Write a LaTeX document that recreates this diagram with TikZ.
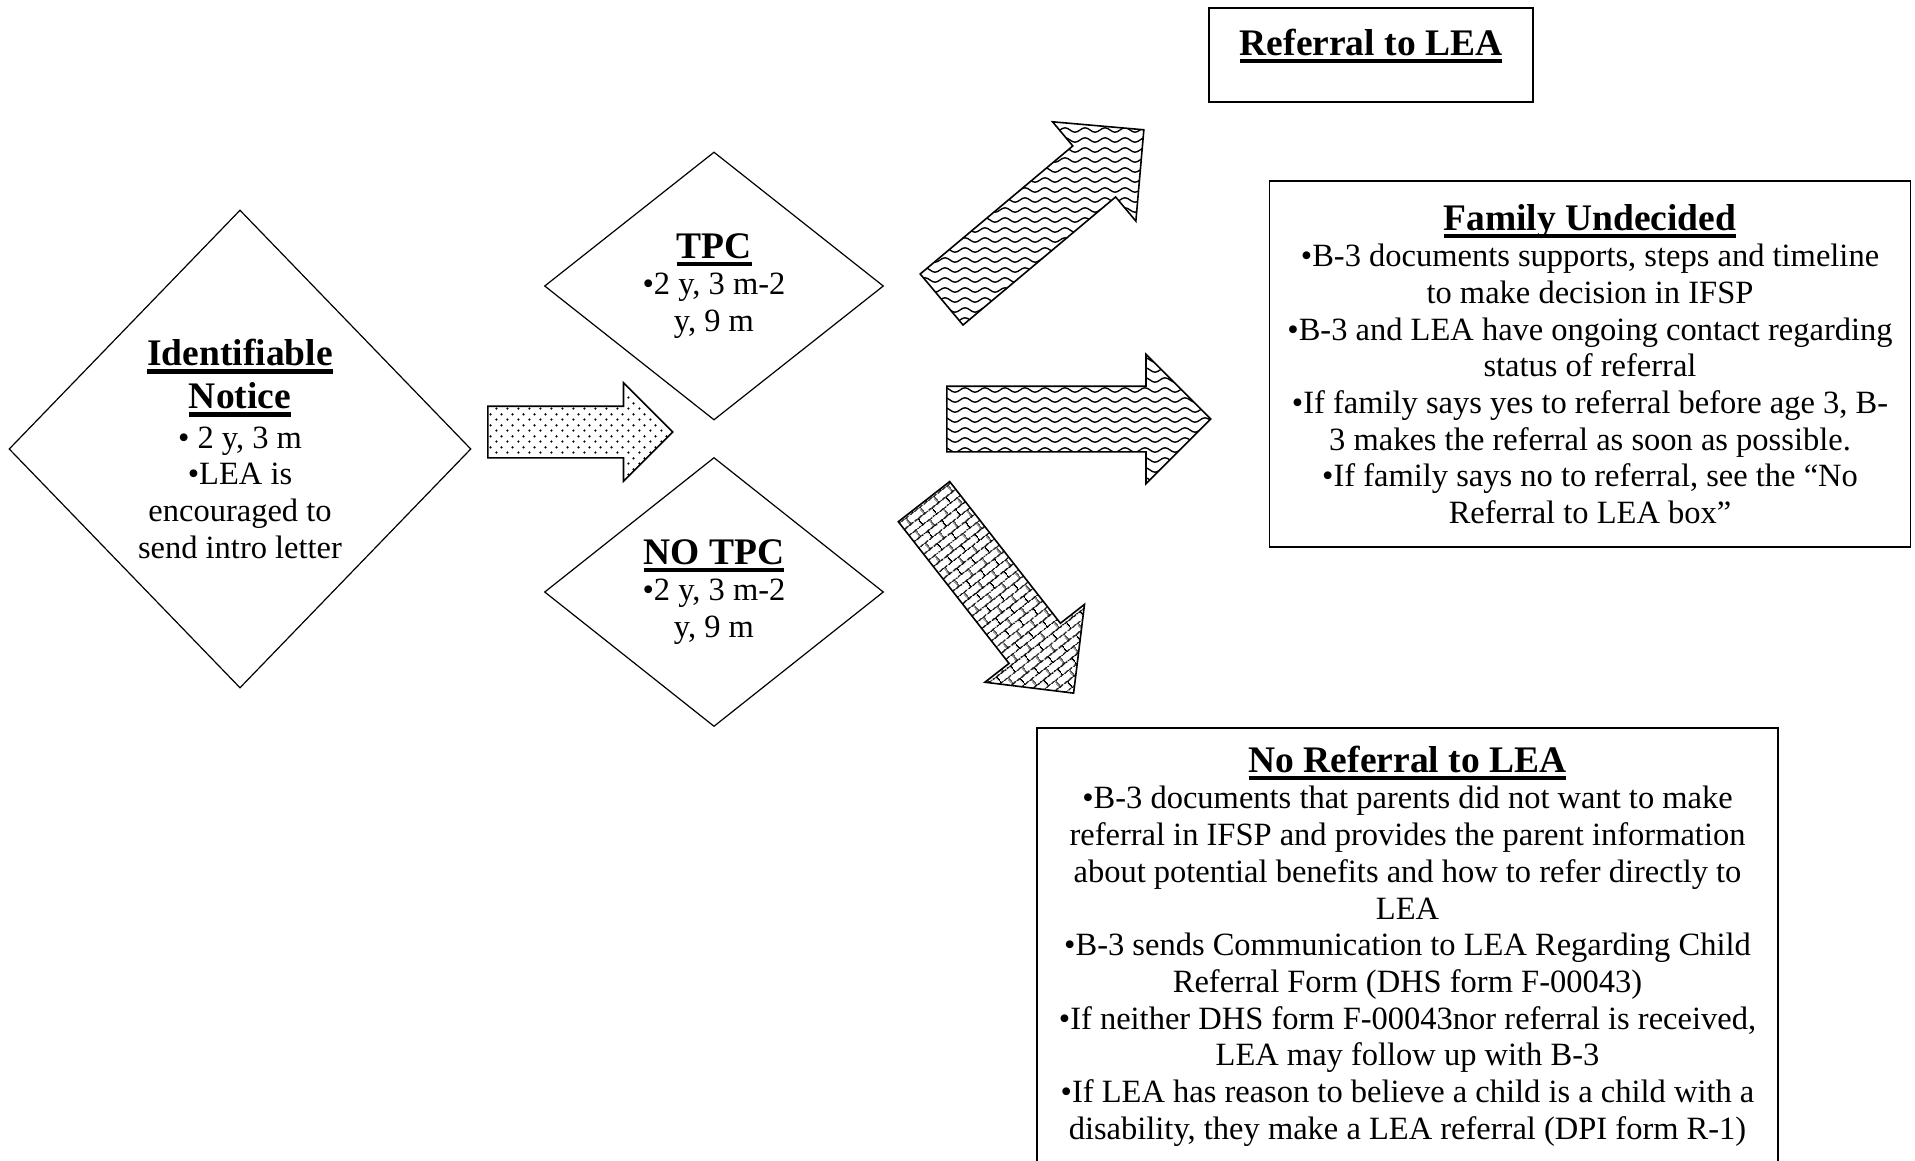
\documentclass[tikz,border=0pt]{standalone}
\usepackage{fontspec}
\setmainfont{Liberation Serif}
\usetikzlibrary{shapes.geometric,shapes.arrows,patterns.meta}

% bold heading with a Word-like underline
\newcommand{\heading}[1]{\setbox0=\hbox{\fontsize{37.5}{43}\selectfont\bfseries #1}\rlap{\copy0}\rule[-8pt]{\wd0}{4.5pt}}

\tikzdeclarepattern{
  name=dotgrid, type=uncolored,
  bounding box={(0pt,0pt) and (10.5pt,10.5pt)},
  tile size={(10.5pt,10.5pt)},
  code={
    \fill (2.6pt,2.6pt) circle (1.3pt);
    \fill (7.9pt,7.9pt) circle (1.3pt);
  }
}
\tikzdeclarepattern{
  name=wavy, type=uncolored,
  bounding box={(0pt,-5pt) and (20pt,5pt)},
  tile size={(20pt,10pt)},
  code={
    \draw[line width=1.4pt] (0pt,0pt) sin (5pt,2.2pt) cos (10pt,0pt) sin (15pt,-2.2pt) cos (20pt,0pt);
  }
}
\tikzdeclarepattern{
  name=brickwall, type=uncolored,
  bounding box={(0pt,0pt) and (18pt,16pt)},
  tile size={(18pt,16pt)},
  tile transformation={rotate=38},
  code={
    \draw[line width=1.3pt] (0pt,0.7pt) -- (18pt,0.7pt) (0pt,8.7pt) -- (18pt,8.7pt)
      (4.5pt,0.7pt) -- (4.5pt,8.7pt) (13.5pt,8.7pt) -- (13.5pt,16pt) (13.5pt,0pt) -- (13.5pt,0.7pt);
  }
}

\begin{document}
\begin{tikzpicture}[x=1pt,y=-1pt]
    \tikzstyle{every node}=[font=\fontsize{32.5}{36.7}\selectfont]
    \tikzstyle{decision}=[diamond, draw, line width=1.2pt, inner sep=0pt, align=center]
    \tikzstyle{infobox}=[rectangle, draw, line width=1.6pt, inner sep=0pt, align=center]
    \tikzstyle{fatarrow}=[single arrow, draw, line width=1.6pt, inner xsep=0pt,
        single arrow tip angle=90, anchor=tail]

    \useasboundingbox (0,0) rectangle (1915,1160);

    % Draw the decision diamonds
    \node[decision, minimum width=462pt, minimum height=478pt] (notice) at (240,449)
        {\heading{Identifiable}\\[6pt] \heading{Notice}\\[3pt] • 2 y, 3 m\\ •LEA is\\ encouraged to\\ send intro letter};
    \node[decision, minimum width=339pt, minimum height=268pt] (tpc) at (714,286)
        {\heading{TPC}\\ •2 y, 3 m-2\\ y, 9 m};
    \node[decision, minimum width=339pt, minimum height=269pt] (notpc) at (714,592)
        {\heading{NO TPC}\\ •2 y, 3 m-2\\ y, 9 m};

    % Draw the outcome boxes
    \node[infobox, minimum width=324pt, minimum height=94pt, text height=28pt, text depth=28pt]
        (referral) at (1371,55) {\heading{Referral to LEA}};
    \node[infobox, minimum width=641pt, minimum height=366pt] (undecided) at (1590,364)
        {\heading{Family Undecided}\\
         •B-3 documents supports, steps and timeline\\
         to make decision in IFSP\\
         •B-3 and LEA have ongoing contact regarding\\
         status of referral\\
         •If family says yes to referral before age 3, B-\\
         3 makes the referral as soon as possible.\\
         •If family says no to referral, see the “No\\
         Referral to LEA box”};
    \node[infobox, minimum width=741pt, minimum height=436pt] (noreferral) at (1407.5,946)
        {\heading{No Referral to LEA}\\
         •B-3 documents that parents did not want to make\\
         referral in IFSP and provides the parent information\\
         about potential benefits and how to refer directly to\\
         LEA\\
         •B-3 sends Communication to LEA Regarding Child\\
         Referral Form (DHS form F-00043)\\
         •If neither DHS form F-00043nor referral is received,\\
         LEA may follow up with B-3\\
         •If LEA has reason to believe a child is a child with a\\
         disability, they make a LEA referral (DPI form R-1)};

    % Draw the block arrows
    \node[fatarrow, pattern=dotgrid, inner ysep=25pt, single arrow head extend=23.5pt,
        minimum height=185pt] (arrow-notice) at (487,432) {};
    \node[fatarrow, pattern=wavy, inner ysep=32.5pt, single arrow head extend=31.5pt,
        minimum height=264pt, rotate=40] (arrow-referral) at (941,300) {};
    \node[fatarrow, pattern=wavy, inner ysep=32pt, single arrow head extend=32pt,
        minimum height=264pt] (arrow-undecided) at (946,419) {};
    \node[fatarrow, pattern=brickwall, inner ysep=31.8pt, single arrow head extend=30.6pt,
        minimum height=243pt, rotate=-52] (arrow-noreferral) at (923.5,501) {};
\end{tikzpicture}
\end{document}
